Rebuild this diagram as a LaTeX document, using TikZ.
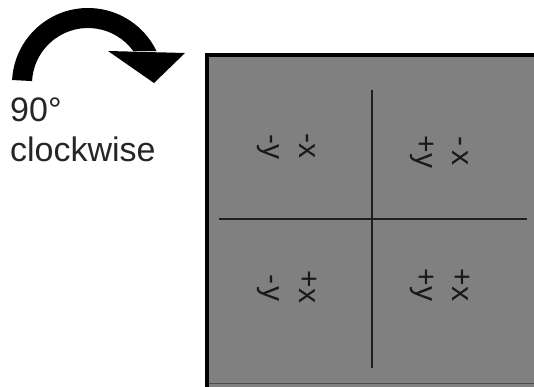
\documentclass[tikz,border=0pt]{standalone}
\usepackage{fontspec}
\usetikzlibrary{calc}
\setmainfont{Liberation Sans}
\definecolor{panelgray}{HTML}{808080}
\definecolor{divider}{HTML}{1E1E1E}
\begin{document}
\begin{tikzpicture}[x=1pt,y=1pt,
  caption/.style={inner sep=0pt,anchor=base west,font=\fontsize{34}{36}\selectfont,text=black!85},
  sign/.style={inner sep=0pt,rotate=-90,font=\fontsize{30}{32}\selectfont,text=black!90},
  rule/.style={draw=divider,line width=1.4pt}]
\useasboundingbox (0,0) rectangle (534,386);
\clip (0,0) rectangle (534,386);

% curved rotation arrow: thick arc plus a triangular head
\fill[black] (88,302) ++(177:76) arc[start angle=177,end angle=25.7,radius=76pt]
  -- ($(88,302)+(36.1:56)$) arc[start angle=36.1,end angle=177,radius=56pt] -- cycle;
\fill[black] (108,335) -- (185,333) -- (154,303) -- cycle;

\node[caption] (deg) at (10,264) {90°};
\node[caption] (cw) at (10,225) {clockwise};

% grey panel with a heavy left and top edge
\fill[panelgray] (205,-5) rectangle (540,333);
\draw[black,line width=4pt] (207,-5) -- (207,331) -- (540,331);
\draw[gray!60!black,line width=1pt] (209,3) -- (540,3);

% quadrant dividers
\coordinate (vtop) at (372,296);
\coordinate (vbot) at (372,18);
\coordinate (hleft) at (219,167);
\coordinate (hright) at (527,167);
\draw[rule] (vtop) -- (vbot);
\draw[rule] (hleft) -- (hright);

% quadrant sign labels, turned a quarter turn clockwise
\node[sign] (tly) at (268,239) {-y};
\node[sign] (tlx) at (307,240) {-x};
\node[sign] (try) at (422,234) {+y};
\node[sign] (trx) at (460,235) {-\hspace{5pt}x};
\node[sign] (bly) at (268,98) {-\hspace{2pt}y};
\node[sign] (blx) at (308,99) {+x};
\node[sign] (bry) at (422,101) {+y};
\node[sign] (brx) at (461,101) {+x};
\end{tikzpicture}
\end{document}
